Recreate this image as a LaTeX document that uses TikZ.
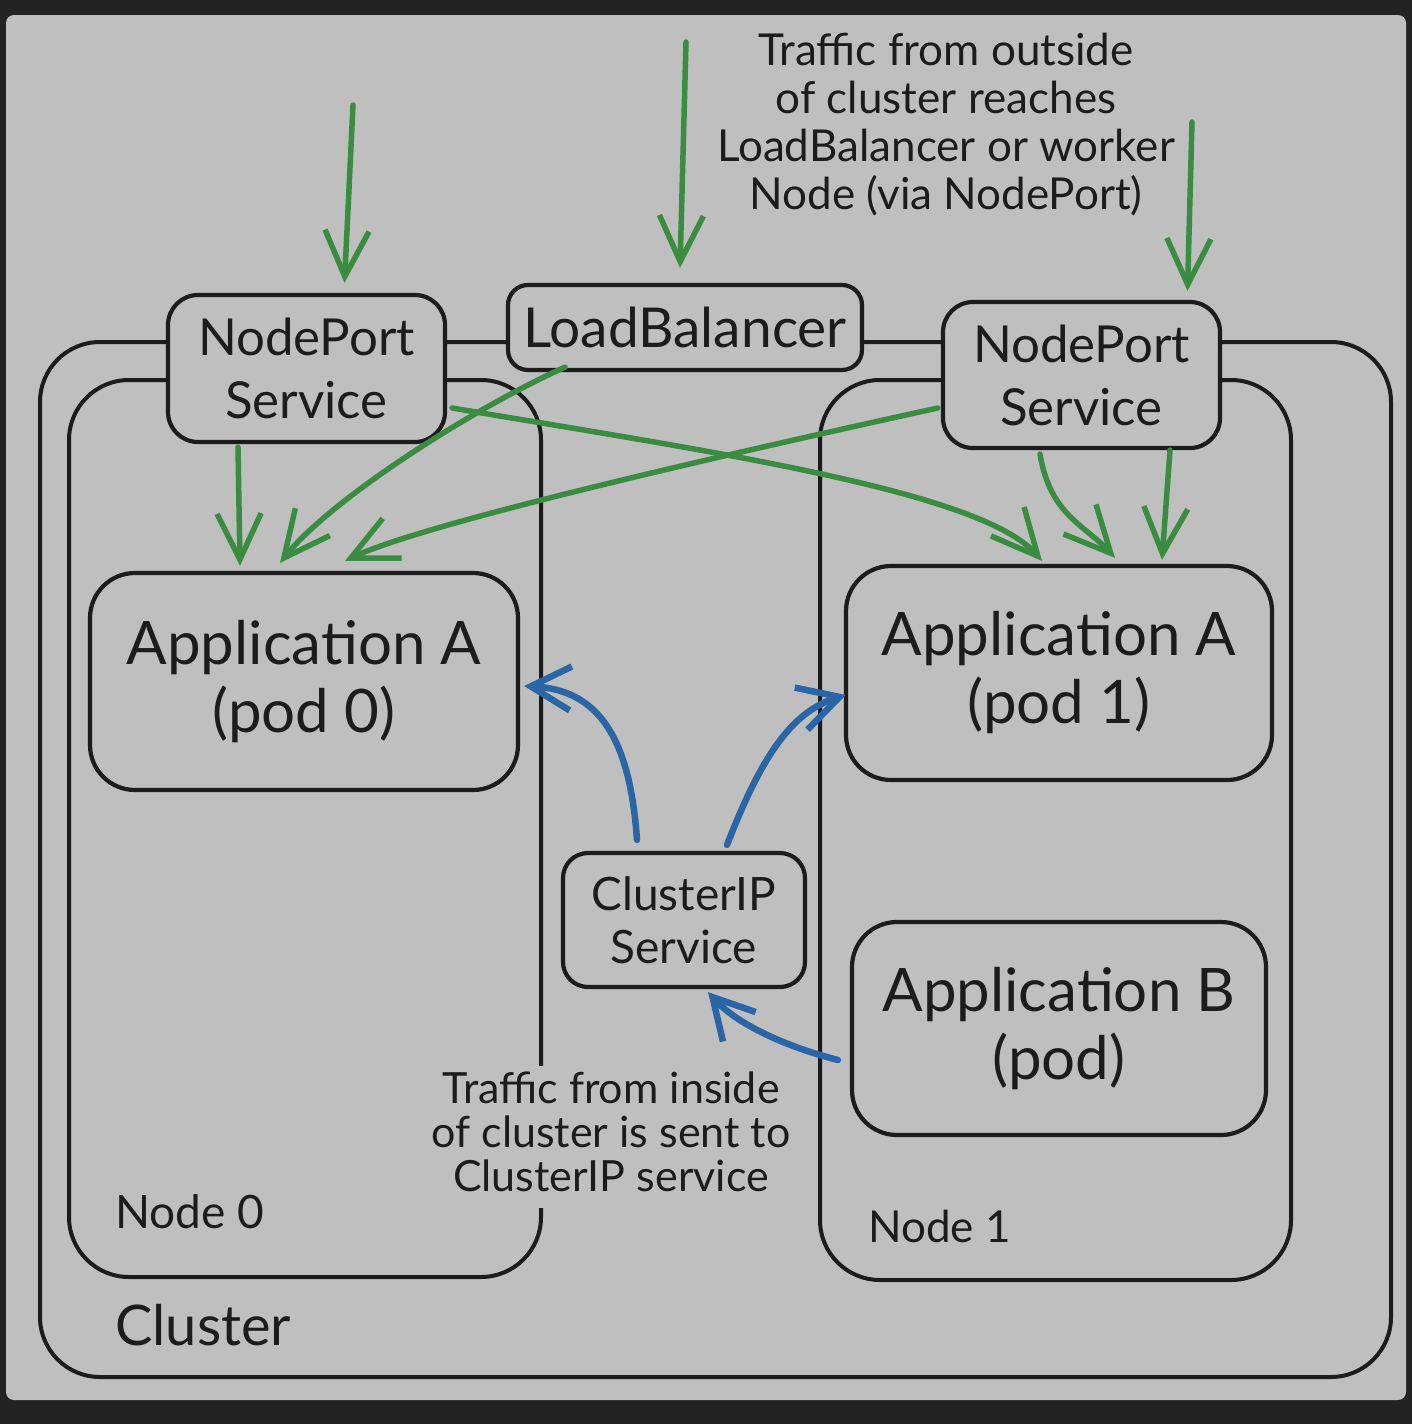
\documentclass[tikz,border=0pt]{standalone}
\usepackage{fontspec}
\setmainfont{Lato}
\usetikzlibrary{arrows.meta,calc}
\definecolor{bgdark}{HTML}{232323}
\definecolor{panel}{HTML}{BFBFBF}
\definecolor{ink}{HTML}{1C1C1C}
\definecolor{grn}{HTML}{3A8D40}
\definecolor{blu}{HTML}{2A66A6}
\newcommand\fsz[2]{\fontsize{#1}{#2}\selectfont}
\begin{document}
\begin{tikzpicture}[x=1pt,y=-1pt,
  box/.style={draw=ink, line width=4.2pt, fill=panel, rounded corners=#1, inner sep=0pt, align=center, text=ink},
  box/.default=30pt,
  container/.style={draw=ink, line width=4pt, rounded corners=60pt},
  garrow/.style={draw=grn, line width=5.5pt, line cap=round, -{Straight Barb[length=46pt,width=44pt]}},
  barrow/.style={draw=blu, line width=6.5pt, line cap=round, -{Straight Barb[length=40pt,width=44pt]}},
  lbl/.style={text=ink, inner sep=0pt, align=center}]
\useasboundingbox (0,0) rectangle (1412,1424);
\fill[bgdark] (0,0) rectangle (1412,1424);
\fill[panel, rounded corners=8pt] (6,15) rectangle (1406,1400);

% containers
\draw[container] (40,342) rectangle (1391,1377);
\draw[container] (69,380) rectangle (541,1277);
\draw[container] (820,380) rectangle (1291,1280);
\fill[panel] (528,1066) rectangle (554,1208);

% boxes
\node[box=30pt, minimum width=277pt, minimum height=147pt, font=\fsz{51}{63}] (np0) at (306.5,368.5) {NodePort\\Service};
\node[box=20pt, minimum width=354pt, minimum height=85pt, font=\fsz{55}{60}] (lb) at (685,327.5) {LoadBalancer};
\node[box=30pt, minimum width=277pt, minimum height=146pt, font=\fsz{51}{63}] (np1) at (1081.5,375) {NodePort\\Service};
\node[box=45pt, minimum width=428pt, minimum height=217pt, font=\fsz{60}{68}] (pod0) at (304,681.5) {Application A\\(pod 0)};
\node[box=45pt, minimum width=426pt, minimum height=214pt, font=\fsz{60}{68}] (pod1) at (1059,673) {Application A\\(pod 1)};
\node[box=25pt, minimum width=242pt, minimum height=134pt, font=\fsz{46}{53}] (cip) at (684,920) {ClusterIP\\Service};
\node[box=45pt, minimum width=414pt, minimum height=213pt, font=\fsz{60}{68}] (appb) at (1059,1028.5) {Application B\\(pod)};

% free ends
\coordinate (g1s) at (353,105);
\coordinate (g2s) at (686,42);
\coordinate (g3s) at (1192,122);

% green arrows
\draw[garrow] (g1s) -- ([xshift=38pt,yshift=10pt]np0.north);
\draw[garrow] (g2s) -- ([xshift=-5pt,yshift=15pt]lb.north);
\draw[garrow] (g3s) -- ([xshift=106pt,yshift=9pt]np1.north);
\draw[garrow] ([xshift=-68.5pt,yshift=-3pt]np0.south) -- ([xshift=-64pt,yshift=5pt]pod0.north);
\draw[garrow] ([xshift=-120pt,yshift=5pt]lb.south) .. controls (470,410) and (330,500) .. ([xshift=-24pt,yshift=8pt]pod0.north);
\draw[garrow] ([xshift=-3pt,yshift=-33pt]np1.west) .. controls (700,460) and (420,525) .. ([xshift=41pt,yshift=10pt]pod0.north);
\draw[garrow] ([xshift=5pt,yshift=-39.5pt]np0.east) .. controls (700,450) and (980,490) .. ([xshift=-17pt,yshift=3pt]pod1.north);
\draw[garrow] ([xshift=-41.5pt,yshift=-4pt]np1.south) .. controls (1050,515) and (1085,525) .. ([xshift=56pt,yshift=6pt]pod1.north);
\draw[garrow] ([xshift=88.5pt]np1.south) -- ([xshift=103pt,yshift=4pt]pod1.north);

% blue arrows
\draw[barrow] ([xshift=-47pt,yshift=11pt]cip.north) .. controls (630,740) and (600,690) .. ([xshift=4pt,yshift=-4.5pt]pod0.east);
\draw[barrow] ([xshift=43pt,yshift=6pt]cip.north) .. controls (760,760) and (790,712) .. ([xshift=2pt,yshift=-22pt]pod1.west);
\draw[barrow] ([xshift=-12pt,yshift=-31.5pt]appb.west) .. controls (780,1045) and (735,1022) .. ([xshift=24pt,yshift=-3pt]cip.south);

% labels
\node[lbl, font=\fsz{44}{48}] (outtxt) at (946,125) {Traffic from outside\\of cluster reaches\\LoadBalancer or worker\\Node (via NodePort)};
\node[lbl, font=\fsz{43}{44}] (intxt) at (611,1132) {Traffic from inside\\of cluster is sent to\\ClusterIP service};
\node[lbl, anchor=west, font=\fsz{46}{50}] (n0lbl) at (115,1212) {Node 0};
\node[lbl, anchor=west, font=\fsz{44}{50}] (n1lbl) at (868,1226) {Node 1};
\node[lbl, anchor=west, font=\fsz{56}{60}] (cllbl) at (115,1325) {Cluster};
\end{tikzpicture}
\end{document}
